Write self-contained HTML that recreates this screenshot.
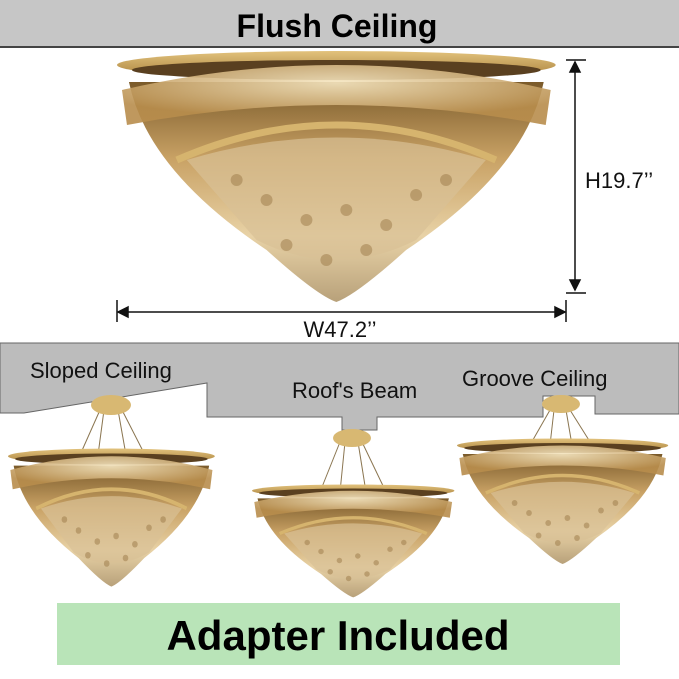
<!DOCTYPE html>
<html><head><style>
body{margin:0;width:679px;height:674px;background:#fff;overflow:hidden;font-family:"Liberation Sans","DejaVu Sans",sans-serif}
</style></head><body>
<svg width="679" height="674" viewBox="0 0 679 674" xmlns="http://www.w3.org/2000/svg">
<defs>
<linearGradient id="rim" x1="0" y1="0" x2="0" y2="1">
<stop offset="0" stop-color="#e2c27c"/><stop offset="1" stop-color="#a8803c"/></linearGradient>
<linearGradient id="body" x1="0" y1="0" x2="0" y2="1">
<stop offset="0" stop-color="#7a5a2a"/><stop offset="0.35" stop-color="#c9a265"/><stop offset="0.7" stop-color="#e8d2a6"/><stop offset="1" stop-color="#b8a17a"/></linearGradient>
<radialGradient id="glow" cx="0.5" cy="0.3" r="0.6">
<stop offset="0" stop-color="#f6e7c2"/><stop offset="1" stop-color="#b88d4c"/></radialGradient>
<g id="ch">
<path d="M12 32 Q30 120 150 200 Q200 245 220 252 Q240 245 290 200 Q410 120 428 32 Z" fill="url(#body)"/>
<ellipse cx="220" cy="15" rx="220" ry="14" fill="url(#rim)"/>
<ellipse cx="220" cy="20" rx="205" ry="10" fill="#5a4020"/>
<path d="M5 40 Q220 -10 435 40 L430 75 Q220 35 10 75 Z" fill="url(#glow)" opacity="0.9"/>
<path d="M60 110 Q220 40 380 110" fill="none" stroke="#d6b46e" stroke-width="7"/>
<path d="M70 110 Q220 65 370 110 L300 190 Q220 230 140 190 Z" fill="#d9c096" opacity="0.7"/>
<g fill="#9c7a48" opacity="0.5">
<circle cx="150" cy="150" r="6"/><circle cx="190" cy="170" r="6"/><circle cx="230" cy="160" r="6"/><circle cx="270" cy="175" r="6"/><circle cx="300" cy="145" r="6"/><circle cx="120" cy="130" r="6"/><circle cx="330" cy="130" r="6"/><circle cx="210" cy="210" r="6"/><circle cx="250" cy="200" r="6"/><circle cx="170" cy="195" r="6"/>
</g>
</g>
</defs>
<!-- top band -->
<rect x="0" y="0" width="679" height="47" fill="#c6c6c6"/>
<rect x="0" y="46" width="679" height="2" fill="#444"/>
<text x="337" y="37" text-anchor="middle" font-size="32" font-weight="bold" fill="#000">Flush Ceiling</text>
<!-- main chandelier -->
<use href="#ch" transform="translate(117,50) scale(0.997,1)"/>
<!-- dims -->
<g stroke="#111" stroke-width="1.5" fill="#111">
<line x1="575" y1="62" x2="575" y2="290"/>
<path d="M570 72 L575 62 L580 72 Z"/><path d="M570 280 L575 290 L580 280 Z"/>
<line x1="566" y1="60" x2="586" y2="60"/><line x1="566" y1="293" x2="586" y2="293"/>
<line x1="118" y1="312" x2="565" y2="312"/>
<path d="M128 307 L118 312 L128 317 Z"/><path d="M555 307 L565 312 L555 317 Z"/>
<line x1="117" y1="300" x2="117" y2="322"/><line x1="566" y1="300" x2="566" y2="322"/>
</g>
<text x="585" y="188" font-size="22" fill="#111">H19.7’’</text>
<text x="340" y="337" text-anchor="middle" font-size="22" fill="#111">W47.2’’</text>
<!-- lower ceiling -->
<path d="M0 343 L679 343 L679 414 L595 414 L595 396 L543 396 L543 417 L377 417 L377 430 L342 430 L342 417 L207 417 L207 383 L24 413 L0 413 Z" fill="#bcbcbc" stroke="#666" stroke-width="1"/>
<text x="30" y="378" font-size="22" fill="#111">Sloped Ceiling</text>
<text x="292" y="398" font-size="22" fill="#111">Roof's Beam</text>
<text x="462" y="386" font-size="22" fill="#111">Groove Ceiling</text>
<!-- canopies & wires -->
<g stroke="#8a7550" stroke-width="1">
<line x1="100" y1="410" x2="80" y2="455"/><line x1="104" y1="410" x2="98" y2="455"/><line x1="118" y1="410" x2="126" y2="455"/><line x1="122" y1="410" x2="145" y2="455"/>
<line x1="340" y1="442" x2="320" y2="492"/><line x1="345" y1="442" x2="340" y2="492"/><line x1="358" y1="442" x2="366" y2="492"/><line x1="362" y1="442" x2="386" y2="492"/>
<line x1="550" y1="410" x2="530" y2="445"/><line x1="554" y1="410" x2="550" y2="445"/><line x1="566" y1="410" x2="572" y2="445"/><line x1="570" y1="410" x2="592" y2="445"/>
</g>
<ellipse cx="111" cy="405" rx="20" ry="10" fill="#d8b872"/>
<ellipse cx="352" cy="438" rx="19" ry="9" fill="#d8b872"/>
<ellipse cx="561" cy="404" rx="19" ry="9" fill="#d8b872"/>
<use href="#ch" transform="translate(8,448) scale(0.47,0.55)"/>
<use href="#ch" transform="translate(252,484) scale(0.46,0.45)"/>
<use href="#ch" transform="translate(457,438) scale(0.48,0.5)"/>
<!-- adapter -->
<rect x="57" y="603" width="563" height="62" fill="#b9e4b8"/>
<text x="338" y="650" text-anchor="middle" font-size="42" font-weight="bold" fill="#000">Adapter Included</text>
</svg>
</body></html>
